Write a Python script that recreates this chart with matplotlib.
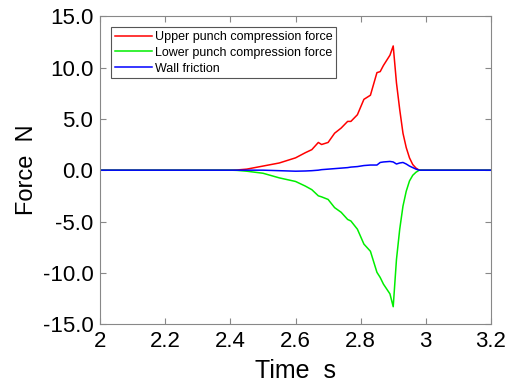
import numpy as np
import matplotlib
matplotlib.use('Agg')
import matplotlib.pyplot as plt
from matplotlib.ticker import FormatStrFormatter

plt.rcParams['font.family'] = ['Liberation Sans', 'DejaVu Sans']

# time points (s)
time = [2.0, 2.40, 2.42, 2.45, 2.50, 2.55, 2.60, 2.63, 2.65, 2.67, 2.68, 2.70,
        2.72, 2.74, 2.76, 2.77, 2.79, 2.81, 2.83, 2.85, 2.86, 2.87, 2.89, 2.90,
        2.91, 2.92, 2.93, 2.94, 2.95, 2.96, 2.97, 2.98, 3.2]

upper = [0.0, 0.0, 0.02, 0.1, 0.4, 0.7, 1.2, 1.7, 2.0, 2.7, 2.5, 2.7,
         3.6, 4.1, 4.75, 4.75, 5.4, 6.9, 7.3, 9.5, 9.6, 10.2, 11.2, 12.1,
         8.5, 5.9, 3.6, 2.2, 1.2, 0.55, 0.2, 0.0, 0.0]

lower = [0.0, 0.0, -0.02, -0.1, -0.3, -0.75, -1.1, -1.55, -1.9, -2.5, -2.6, -2.85,
         -3.65, -4.1, -4.8, -4.95, -5.75, -7.2, -7.9, -9.95, -10.45, -11.1, -12.05, -13.3,
         -8.7, -5.75, -3.5, -2.05, -1.05, -0.5, -0.2, 0.0, 0.0]

wall = [0.0, 0.0, 0.0, 0.0, 0.0, -0.05, -0.1, -0.08, -0.05, 0.0, 0.05, 0.1,
        0.15, 0.2, 0.25, 0.3, 0.35, 0.45, 0.5, 0.5, 0.75, 0.8, 0.85, 0.8,
        0.6, 0.7, 0.75, 0.6, 0.4, 0.25, 0.1, 0.0, 0.0]

fig = plt.figure(figsize=(5.14, 3.85), dpi=100)
ax = fig.add_axes([0.195, 0.158, 0.76, 0.80])

ax.plot(time, upper, color='#ff0000', lw=1.1, label='Upper punch compression force')
ax.plot(time, lower, color='#00ee00', lw=1.1, label='Lower punch compression force')
ax.plot(time, wall, color='#0000ff', lw=1.1, label='Wall friction')

ax.set_xlim(2, 3.2)
ax.set_ylim(-15, 15)
ax.set_xticks([2, 2.2, 2.4, 2.6, 2.8, 3, 3.2])
ax.set_xticklabels(['2', '2.2', '2.4', '2.6', '2.8', '3', '3.2'])
ax.set_yticks(np.arange(-15, 16, 5))
ax.yaxis.set_major_formatter(FormatStrFormatter('%.1f'))
ax.tick_params(direction='in', top=True, right=True, labelsize=16, length=4,
               color='#888888', pad=5)
for s in ax.spines.values():
    s.set_color('#888888')

ax.set_xlabel('Time  s', fontsize=18, labelpad=5)
ax.set_ylabel('Force  N', fontsize=17, labelpad=3)

leg = ax.legend(loc='upper left', fontsize=9, fancybox=False, framealpha=1,
                edgecolor='#555555', handlelength=3.0, borderpad=0.3,
                labelspacing=0.3, handletextpad=0.2, borderaxespad=0,
                bbox_to_anchor=(0.028, 0.964))
leg.get_frame().set_linewidth(0.8)

fig.savefig('out.png', dpi=100)
